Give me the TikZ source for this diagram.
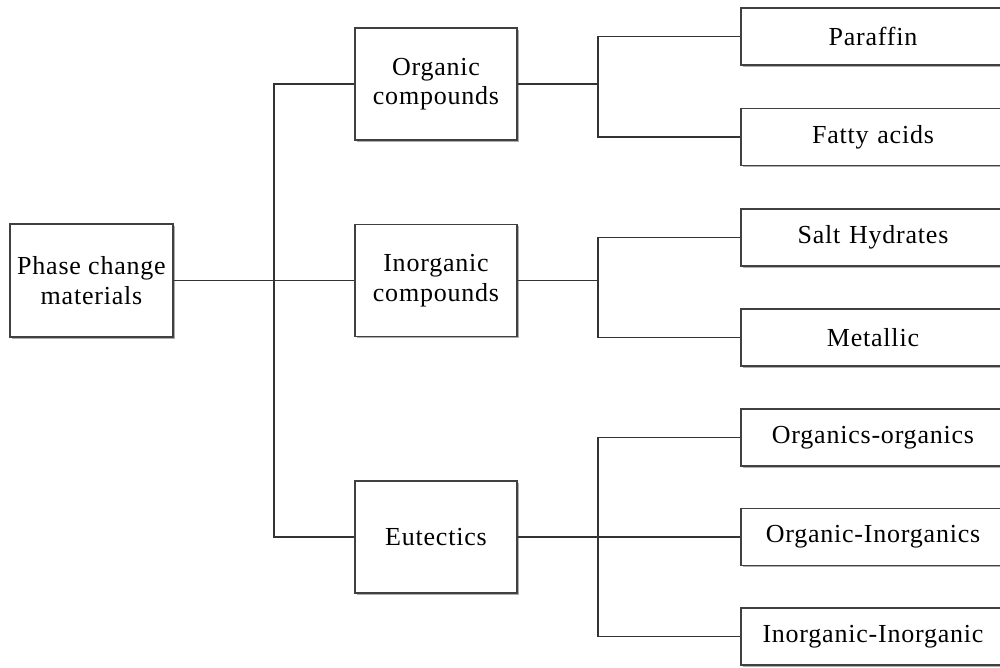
\documentclass[tikz,border=0pt]{standalone}
\usepackage{fontspec}
\setmainfont{Liberation Serif}[LetterSpace=3]
\usetikzlibrary{shadows}
\begin{document}
\begin{tikzpicture}[x=1pt,y=-1pt,
  box/.style={draw=black!75, line width=1.3pt, fill=white, align=center,
    inner sep=0pt, font=\fontsize{26}{29.5}\selectfont,
    drop shadow={shadow xshift=1.5pt, shadow yshift=-1.8pt, fill=black!45, opacity=0.7}},
  rootbox/.style={box, minimum width=163pt, minimum height=113pt},
  midbox/.style={box, minimum width=162pt, minimum height=112pt},
  leafbox/.style={box, minimum width=264pt, minimum height=57pt, text width=260pt},
  link/.style={draw=black!80, line width=1.2pt}]
\useasboundingbox (0,0) rectangle (1000,668);
\clip (0,0) rectangle (1000,668);
\fill[white] (0,0) rectangle (1000,668);

% root and category boxes
\node[rootbox] (pcm) at (91.5,280.5) {Phase change\\materials};
\node[midbox] (org) at (436,84) {Organic\\compounds};
\node[midbox] (inorg) at (436,280.5) {Inorganic\\compounds};
\node[midbox] (eut) at (436,537) {Eutectics};

% leaf boxes, running off the right edge
\node[leafbox] (par) at (873,36.5) {Paraffin};
\node[leafbox] (fat) at (873,137) {Fatty acids};
\node[leafbox] (salt) at (873,237.5) {Salt Hydrates};
\node[leafbox] (met) at (873,337.5) {Metallic};
\node[leafbox] (oo) at (873,437.5) {Organics-organics};
\node[leafbox] (oi) at (873,537) {Organic-Inorganics};
\node[leafbox] (ii) at (873,636.5) {Inorganic-Inorganic};

% branch points
\coordinate (s0) at (274,280.5);
\coordinate (s1) at (598,84);
\coordinate (s2) at (598,280.5);
\coordinate (s3) at (598,537);

% root to categories
\draw[link] (pcm.east) -- (inorg.west);
\draw[link] (org.west) -| (s0);
\draw[link] (eut.west) -| (s0);

% categories to leaves
\draw[link] (org.east) -- (s1);
\draw[link] (par.west) -| (s1);
\draw[link] (fat.west) -| (s1);
\draw[link] (inorg.east) -- (s2);
\draw[link] (salt.west) -| (s2);
\draw[link] (met.west) -| (s2);
\draw[link] (eut.east) -- (s3);
\draw[link] (oo.west) -| (s3);
\draw[link] (oi.west) -- (s3);
\draw[link] (ii.west) -| (s3);
\end{tikzpicture}
\end{document}
